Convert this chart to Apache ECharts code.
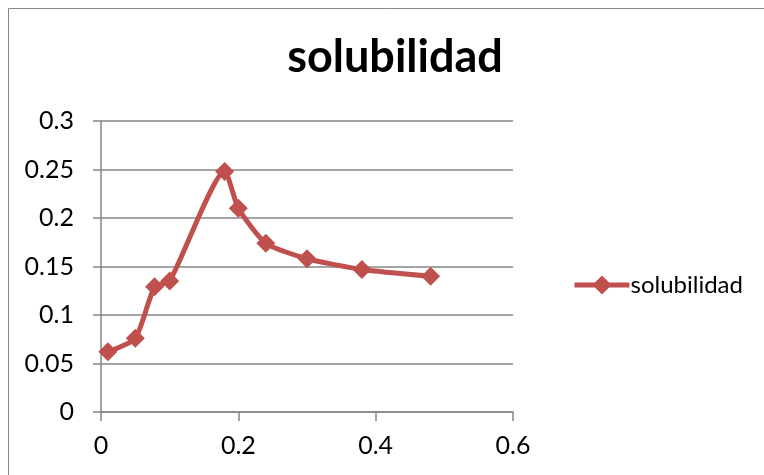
<!DOCTYPE html>
<html><head><meta charset="utf-8">
<script src="https://cdn.jsdelivr.net/npm/echarts@6/dist/echarts.min.js"></script>
<style>html,body{margin:0;padding:0;background:#fff}#c{width:764px;height:475px}</style>
</head><body><div id="c"></div>
<script>
const seriesName = 'solubilidad';
const xValues = [0.01, 0.05, 0.078, 0.1, 0.18, 0.2, 0.24, 0.3, 0.38, 0.48];
const yValues = [0.062, 0.076, 0.129, 0.135, 0.248, 0.21, 0.174, 0.158, 0.147, 0.14];
const data = xValues.map((x, i) => [x, yValues[i]]);
const font = 'Lato, "Open Sans", sans-serif';
const chart = echarts.init(document.getElementById('c'));
chart.setOption({
  animation: false,
  graphic: [{type:'rect', shape:{x:8.5,y:8.5,width:800,height:500}, style:{fill:'none', stroke:'#888', lineWidth:1}}],
  title: {text: 'solubilidad', left: 390, top: 30, textAlign: 'center',
    textStyle: {fontFamily: font, fontWeight: 'bold', fontSize: 45, color: '#000'}},
  legend: {left: 567, top: 268, itemWidth: 55, itemHeight: 24, itemGap: 4,
    lineStyle: {width: 5},
    textStyle: {fontFamily: font, fontSize: 24, color: '#000', padding:[0,0,0,-4]}},
  grid: {left: 101, right: 251, top: 121, bottom: 63},
  xAxis: {type: 'value', min: 0, max: 0.6, interval: 0.2,
    axisLine: {lineStyle: {color: '#868686', width: 1.5}},
    axisTick: {show: true, length: 9, lineStyle: {color: '#868686', width: 1.5}},
    splitLine: {show: false},
    axisLabel: {fontFamily: font, fontSize: 25, color: '#000', margin: 21}},
  yAxis: {type: 'value', min: 0, max: 0.3, interval: 0.05,
    axisLine: {show: true, lineStyle: {color: '#868686', width: 1.5}},
    axisTick: {show: true, length: 8, lineStyle: {color: '#868686', width: 1.5}},
    splitLine: {show: true, lineStyle: {color: '#868686', width: 1.5}},
    axisLabel: {fontFamily: font, fontSize: 25, color: '#000', margin: 27}},
  series: [{name: seriesName, type: 'line', data: data, smooth: 0.2,
    symbol: 'diamond', symbolSize: 19,
    lineStyle: {color: '#C0504D', width: 5},
    itemStyle: {color: '#C0504D'}}]
});
</script></body></html>
